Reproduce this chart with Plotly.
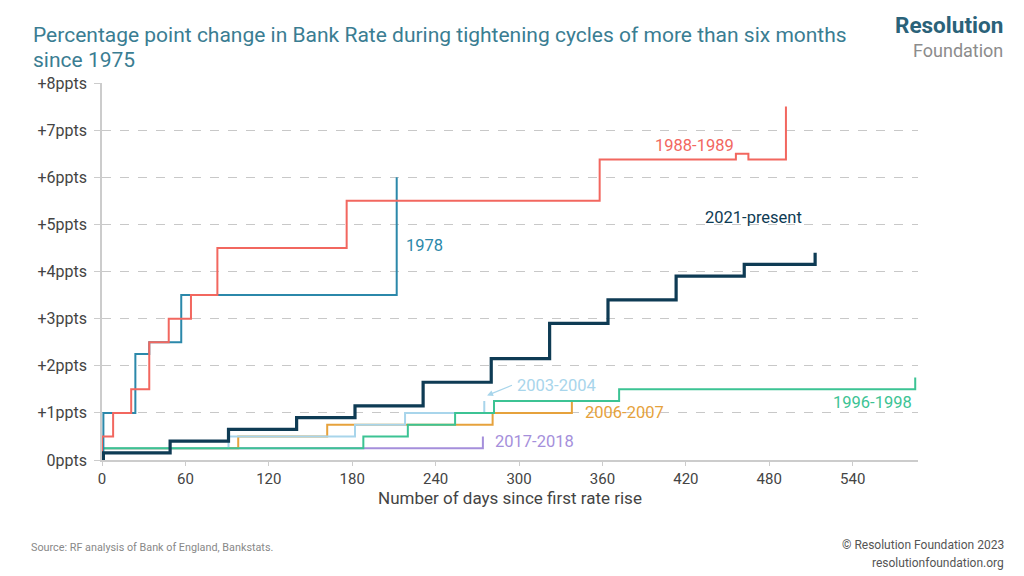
import plotly.graph_objects as go

# ---- data (days since first rate rise, cumulative ppt change) ----
d1978 = [0, 1, 24, 30, 34, 57, 212]
v1978 = [0, 1.0, 2.25, 2.25, 2.5, 3.5, 6.0]

d1988 = [0, 0, 8, 21, 34, 48, 64, 83, 176, 358, 456, 465, 492]
v1988 = [0, 0.5, 1.0, 1.5, 2.5, 3.0, 3.5, 4.5, 5.5, 6.375, 6.5, 6.375, 7.5]

d1996 = [0, 0, 188, 220, 254, 282, 372, 585]
v1996 = [0, 0.25, 0.5, 0.75, 1.0, 1.25, 1.5, 1.75]

d2003 = [0, 0, 91, 182, 218, 275]
v2003 = [0, 0.25, 0.5, 0.75, 1.0, 1.25]

d2006 = [0, 0, 98, 162, 281, 338]
v2006 = [0, 0.25, 0.5, 0.75, 1.0, 1.25]

d2017 = [0, 0, 274]
v2017 = [0, 0.25, 0.5]

d2021 = [0, 1, 49, 91, 140, 182, 231, 280, 322, 364, 413, 462, 513]
v2021 = [0, 0.15, 0.4, 0.65, 0.9, 1.15, 1.65, 2.15, 2.9, 3.4, 3.9, 4.15, 4.4]

y_ticks = [0, 1, 2, 3, 4, 5, 6, 7, 8]
y_tick_labels = ["0ppts", "+1ppts", "+2ppts", "+3ppts", "+4ppts", "+5ppts", "+6ppts", "+7ppts", "+8ppts"]
x_ticks = [0, 60, 120, 180, 240, 300, 360, 420, 480, 540]

series = [
    ("2017-2018", d2017, v2017, "#a58fdb", 2),
    ("2006-2007", d2006, v2006, "#e6a23c", 2),
    ("2003-2004", d2003, v2003, "#a8d5eb", 2),
    ("1996-1998", d1996, v1996, "#3cc394", 2),
    ("1978", d1978, v1978, "#2b88aa", 2),
    ("1988-1989", d1988, v1988, "#f2675f", 2),
    ("2021-present", d2021, v2021, "#0e3b54", 3.2),
]

FONT = "Roboto"
fig = go.Figure()
for name, d, v, col, w in series:
    fig.add_trace(go.Scatter(x=d, y=v, mode="lines", name=name,
                             line=dict(color=col, width=w, shape="hv"),
                             showlegend=False, hoverinfo="skip"))

labels = [
    ("1988-1989", 426, 6.67, "center", "#f2675f"),
    ("1978", 217, 4.56, "left", "#2b88aa"),
    ("2021-present", 469, 5.14, "center", "#0e3b54"),
    ("2003-2004", 297, 1.59, "left", "#a8d5eb"),
    ("2006-2007", 346, 1.0, "left", "#e6a23c"),
    ("1996-1998", 584, 1.23, "right", "#3cc394"),
    ("2017-2018", 281, 0.40, "left", "#a58fdb"),
]
for t, x, y, xa, col in labels:
    fig.add_annotation(x=x, y=y, text=t, showarrow=False, xanchor=xa, yanchor="middle",
                       font=dict(family=FONT, size=16.5, color=col))

# leader arrow for 2003-2004
fig.add_annotation(x=277, y=1.37, ax=296, ay=1.6, axref="x", ayref="y", text="",
                   showarrow=True, arrowhead=2, arrowsize=1, arrowwidth=1.2, arrowcolor="#a8d5eb")

fig.update_layout(
    width=1024, height=576,
    margin=dict(l=94, r=114, t=75, b=124),
    paper_bgcolor="white", plot_bgcolor="white",
    font=dict(family=FONT, color="#444444"),
    xaxis=dict(range=[0, 587], tickvals=x_ticks, showgrid=False, zeroline=False,
               showline=True, linecolor="#cccccc", linewidth=1.5,
               ticks="outside", ticklen=4, tickcolor="#cccccc",
               tickfont=dict(size=15, color="#444444"),
               title=dict(text="Number of days since first rate rise", standoff=3,
                          font=dict(size=17, color="#444444"))),
    yaxis=dict(range=[0, 8.0], tickvals=y_ticks, ticktext=y_tick_labels,
               showgrid=True, gridcolor="#c8c8c8", griddash="dash", gridwidth=1,
               zeroline=False, showline=True, linecolor="#cccccc", linewidth=1.5,
               ticks="outside", ticklen=6, tickcolor="#cccccc", ticklabelstandoff=4,
               tickfont=dict(size=16, color="#444444")),
)

# title (two lines)
fig.add_annotation(xref="paper", yref="paper", x=-0.086, y=1.126, xanchor="left", yanchor="middle",
                   showarrow=False, borderpad=0,
                   text="Percentage point change in Bank Rate during tightening cycles of more than six months",
                   font=dict(family=FONT, size=21, color="#3a7d92"))
fig.add_annotation(xref="paper", yref="paper", x=-0.086, y=1.062, xanchor="left", yanchor="middle",
                   showarrow=False, borderpad=0, text="since 1975",
                   font=dict(family=FONT, size=21, color="#3a7d92"))
# logo
fig.add_annotation(xref="paper", yref="paper", x=1.106, y=1.153, xanchor="right", yanchor="middle",
                   showarrow=False, borderpad=0, text="<b>Resolution</b>",
                   font=dict(family=FONT, size=22.5, color="#2a6279"))
fig.add_annotation(xref="paper", yref="paper", x=1.106, y=1.086, xanchor="right", yanchor="middle",
                   showarrow=False, borderpad=0, text="Foundation",
                   font=dict(family=FONT, size=18, color="#8c8c8c"))
# footer
fig.add_annotation(xref="paper", yref="paper", x=-0.09, y=-0.231, xanchor="left", yanchor="middle",
                   showarrow=False, text="Source: RF analysis of Bank of England, Bankstats.",
                   font=dict(family=FONT, size=10.8, color="#888888"))
fig.add_annotation(xref="paper", yref="paper", x=1.107, y=-0.226, xanchor="right", yanchor="middle",
                   showarrow=False, borderpad=0, text="© Resolution Foundation 2023",
                   font=dict(family=FONT, size=12, color="#555555"))
fig.add_annotation(xref="paper", yref="paper", x=1.107, y=-0.272, xanchor="right", yanchor="middle",
                   showarrow=False, borderpad=0, text="resolutionfoundation.org",
                   font=dict(family=FONT, size=12, color="#555555"))

fig.write_html("out.html")
